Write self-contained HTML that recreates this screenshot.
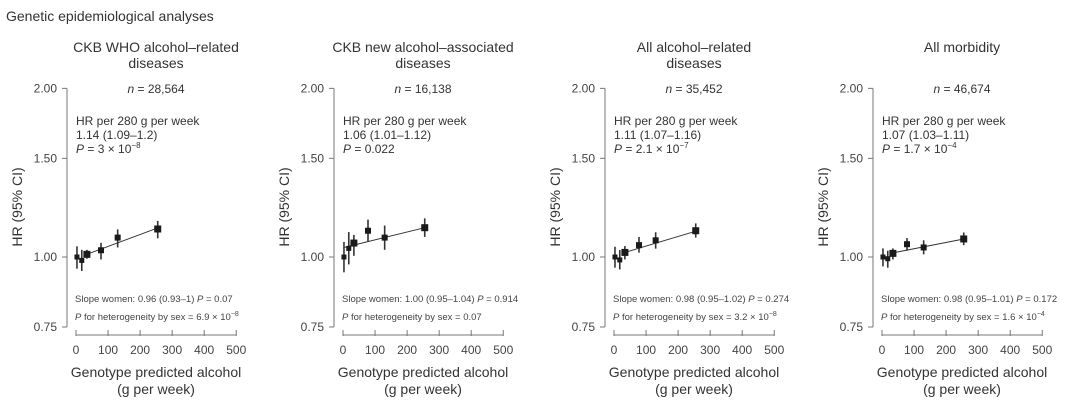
<!DOCTYPE html>
<html><head><meta charset="utf-8"><style>
body{margin:0;background:#fff;}
svg{display:block;font-family:"Liberation Sans",sans-serif;}
</style></head><body>
<svg id="c" width="1080" height="405">
<text x="6" y="21" font-size="14" fill="#333">Genetic epidemiological analyses</text>
</svg>
<script>
const titles1=["CKB WHO alcohol\u2013related","CKB new alcohol\u2013associated","All alcohol\u2013related","All morbidity"];
const titles2=["diseases","diseases","diseases",""];
const nLabels=["28,564","16,138","35,452","46,674"];
const hrText=["1.14 (1.09\u20131.2)","1.06 (1.01\u20131.12)","1.11 (1.07\u20131.16)","1.07 (1.03\u20131.11)"];
const pBase=["3 \u00d7 10","0.022","2.1 \u00d7 10","1.7 \u00d7 10"];
const pExp=["\u22128","","\u22127","\u22124"];
const slopeText=["0.96 (0.93\u20131)","1.00 (0.95\u20131.04)","0.98 (0.95\u20131.02)","0.98 (0.95\u20131.01)"];
const slopeP=["0.07","0.914","0.274","0.172"];
const hetBase=["6.9 \u00d7 10","0.07","3.2 \u00d7 10","1.6 \u00d7 10"];
const hetExp=["\u22128","","\u22128","\u22124"];
const xVals=[3,18,34,78,130,255];
const hr=[[1.00,0.986,1.011,1.028,1.083,1.122],[1.00,1.036,1.059,1.114,1.083,1.128],[1.00,0.988,1.019,1.05,1.071,1.114],[1.00,0.993,1.015,1.054,1.04,1.077]];
const lo=[[0.953,0.944,0.993,0.99,1.04,1.08],[0.939,0.97,1.005,1.064,1.03,1.086],[0.957,0.95,0.99,1.018,1.035,1.083],[0.962,0.957,0.99,1.026,1.011,1.05]];
const hi=[[1.045,1.03,1.03,1.06,1.12,1.16],[1.064,1.108,1.095,1.166,1.138,1.172],[1.043,1.029,1.046,1.086,1.107,1.148],[1.036,1.026,1.036,1.081,1.071,1.106]];
const lineX=[[34,255],[3,255],[34,255],[34,255]];
const lineY=[[1.011,1.127],[1.04,1.128],[1.019,1.112],[1.017,1.077]];
const yTicks=[0.75,1.00,1.50,2.00];
const yTickLabels=["0.75","1.00","1.50","2.00"];
const xTicks=[0,100,200,300,400,500];
const origins=[76,343,614,882];
const sz=[5,5,7,6,6,7];
const svg=document.getElementById('c');
const NS="http://www.w3.org/2000/svg";
function mk(tag,attrs,parent,txt){const e=document.createElementNS(NS,tag);for(const k in attrs)e.setAttribute(k,attrs[k]);if(txt!==undefined)e.textContent=txt;(parent||svg).appendChild(e);return e;}
const yScale=v=>257-Math.log(v)*243.3;
for(let p=0;p<4;p++){
  const o=origins[p];const xs=v=>o+v*0.3205;const cx=o+80;
  const g=mk('g',{});
  
  
  let t=mk('text',{x:cx,y:52,'font-size':14,fill:'#333','text-anchor':'middle'},g,titles1[p]);
  
  if(titles2[p]){t=mk('text',{x:cx,y:68,'font-size':14,fill:'#333','text-anchor':'middle'},g,titles2[p]);
  }
  t=mk('text',{x:cx,y:93,'font-size':12,fill:'#333','text-anchor':'middle'},g);
  
  mk('tspan',{'font-style':'italic'},t,'n');mk('tspan',{},t,' = '+nLabels[p]);
  const tx=o;
  t=mk('text',{x:tx,y:125,'font-size':12,fill:'#333'},g,'HR per 280 g per week');
  
  t=mk('text',{x:tx,y:139,'font-size':12,fill:'#333'},g,hrText[p]);
  
  t=mk('text',{x:tx,y:153,'font-size':12,fill:'#333'},g);
  
  mk('tspan',{'font-style':'italic'},t,'P');mk('tspan',{},t,' = '+pBase[p]);
  if(pExp[p])mk('tspan',{dy:-5,'font-size':8},t,pExp[p]);
  t=mk('text',{x:tx-1,y:302,'font-size':9.5,fill:'#444'},g,'Slope women: '+slopeText[p]+'  ');
  
  mk('tspan',{'font-style':'italic'},t,'P');mk('tspan',{},t,' = '+slopeP[p]);
  t=mk('text',{x:tx-1,y:320,'font-size':9.5,fill:'#444'},g);
  
  mk('tspan',{'font-style':'italic'},t,'P');mk('tspan',{},t,' for heterogeneity by sex = '+hetBase[p]);
  if(hetExp[p])mk('tspan',{dy:-4,'font-size':7},t,hetExp[p]);
  // y axis
  const ax=o-9;
  let l=mk('line',{x1:ax,x2:ax,y1:yScale(2),y2:yScale(0.75),stroke:'#777','stroke-width':1},g);
  
  yTicks.forEach((v,i)=>{const y=yScale(v);
    const tk=mk('line',{x1:ax-5,x2:ax,y1:y,y2:y,stroke:'#777'},g);
    
    const tl=mk('text',{x:ax-10,y:y+4,'font-size':12,fill:'#444','text-anchor':'end'},g,yTickLabels[i]);
    });
  t=mk('text',{x:0,y:0,'font-size':14,fill:'#333','text-anchor':'middle',transform:`translate(${o-54},207) rotate(-90)`},g,'HR (95% CI)');
  
  // x axis
  l=mk('line',{x1:xs(0),x2:xs(500),y1:335,y2:335,stroke:'#777'},g);
  
  xTicks.forEach(v=>{const x=xs(v);
    const tk=mk('line',{x1:x,x2:x,y1:330,y2:336,stroke:'#777'},g);
    
    const tl=mk('text',{x:x,y:354,'font-size':12,fill:'#444','text-anchor':'middle'},g,String(v));
    });
  t=mk('text',{x:cx,y:377,'font-size':14,fill:'#333','text-anchor':'middle'},g,'Genotype predicted alcohol');
  
  t=mk('text',{x:cx,y:394,'font-size':14,fill:'#333','text-anchor':'middle'},g,'(g per week)');
  
  // fit line
  l=mk('line',{x1:xs(lineX[p][0]),x2:xs(lineX[p][1]),y1:yScale(lineY[p][0]),y2:yScale(lineY[p][1]),stroke:'#333','stroke-width':1},g);
  
  xVals.forEach((xv,i)=>{const x=xs(xv);
    const eb=mk('line',{x1:x,x2:x,y1:yScale(hi[p][i]),y2:yScale(lo[p][i]),stroke:'#333','stroke-width':1.6},g);
    
    const s=sz[i];
    const r=mk('rect',{x:x-s/2,y:yScale(hr[p][i])-s/2,width:s,height:s,fill:'#1a1a1a'},g);
    });
}
</script>
</body></html>
